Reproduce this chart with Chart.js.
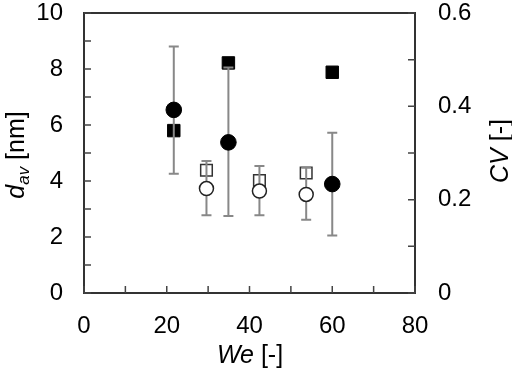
<!DOCTYPE html>
<html>
<head>
<meta charset="utf-8">
<script src="https://cdn.jsdelivr.net/npm/chart.js@4.4.1/dist/chart.umd.min.js"></script>
<style>
html,body{margin:0;padding:0;background:#fff;}
#wrap{width:512px;height:370px;}
</style>
</head>
<body>
<div id="wrap"><canvas id="c" width="512" height="370"></canvas></div>
<script>
// ---- data ----
const weFilled = [21.7, 34.9, 60.0];
const dFilled = [6.54, 5.38, 3.89];
const dFilledHi = [8.80, 8.05, 5.72];
const dFilledLo = [4.26, 2.75, 2.05];
const cvFilled = [0.348, 0.493, 0.473];

const weOpen = [29.6, 42.4, 53.7];
const dOpen = [3.73, 3.64, 3.52];
const dOpenHi = [4.71, 4.54, 4.47];
const dOpenLo = [2.78, 2.78, 2.62];
const cvOpen = [0.263, 0.241, 0.257];

const xTicks = [0, 20, 40, 60, 80];
const yTicks = [0, 2, 4, 6, 8, 10];
const y2Ticks = [0, 0.2, 0.4, 0.6];

const FONT = "'Liberation Sans', Arial, sans-serif";
const pts = (xs, ys) => xs.map((x, i) => ({x: x, y: ys[i]}));

const errBars = {
  0: {xs: weFilled, hi: dFilledHi, lo: dFilledLo},
  1: {xs: weOpen, hi: dOpenHi, lo: dOpenLo}
};

const plugin = {
  id: 'custom',
  beforeDatasetDraw(chart, args) {
    const eb = errBars[args.index];
    if (!eb) return;
    const ctx = chart.ctx, xs = chart.scales.x, ys = chart.scales.y;
    ctx.save();
    ctx.strokeStyle = '#888';
    ctx.lineWidth = 2;
    eb.xs.forEach((x, i) => {
      const px = xs.getPixelForValue(x);
      const top = ys.getPixelForValue(eb.hi[i]);
      const bot = ys.getPixelForValue(eb.lo[i]);
      ctx.beginPath();
      ctx.moveTo(px, top); ctx.lineTo(px, bot);
      ctx.moveTo(px - 5, top); ctx.lineTo(px + 5, top);
      ctx.moveTo(px - 5, bot); ctx.lineTo(px + 5, bot);
      ctx.stroke();
    });
    ctx.restore();
  },
  afterDraw(chart) {
    const ctx = chart.ctx, a = chart.chartArea;
    const xs = chart.scales.x, ys = chart.scales.y, y2 = chart.scales.y2;
    ctx.save();
    // frame
    ctx.strokeStyle = '#333';
    ctx.lineWidth = 2;
    ctx.strokeRect(a.left, a.top, a.right - a.left, a.bottom - a.top);
    // inward ticks
    ctx.lineWidth = 1.5;
    ctx.strokeStyle = '#444';
    const L = 7;
    ctx.beginPath();
    xs.ticks.forEach(t => {
      const p = xs.getPixelForValue(t.value);
      ctx.moveTo(p, a.bottom); ctx.lineTo(p, a.bottom - L);
    });
    ys.ticks.forEach(t => {
      const p = ys.getPixelForValue(t.value);
      ctx.moveTo(a.left, p); ctx.lineTo(a.left + L, p);
    });
    y2.ticks.forEach(t => {
      const p = y2.getPixelForValue(t.value);
      ctx.moveTo(a.right, p); ctx.lineTo(a.right - L, p);
    });
    ctx.stroke();

    // axis titles
    ctx.fillStyle = '#000';
    ctx.textBaseline = 'alphabetic';
    const italic = "italic 25px " + FONT, normal = "25px " + FONT, sub = "italic 17px " + FONT;
    // x title
    ctx.font = italic; const w1 = ctx.measureText('We').width;
    ctx.font = normal; const w2 = ctx.measureText(' [-]').width;
    let sx = 250 - (w1 + w2) / 2;
    ctx.font = italic; ctx.fillText('We', sx, 363);
    ctx.font = normal; ctx.fillText(' [-]', sx + w1, 363);

    // left title
    ctx.save();
    ctx.translate(24, 155);
    ctx.rotate(-Math.PI / 2);
    ctx.font = italic; const a1 = ctx.measureText('d').width;
    ctx.font = sub; const a2 = ctx.measureText('av').width;
    ctx.font = normal; const a3 = ctx.measureText(' [nm]').width;
    let lx = -(a1 + a2 + a3) / 2;
    ctx.font = italic; ctx.fillText('d', lx, 0);
    ctx.font = sub; ctx.fillText('av', lx + a1, 5);
    ctx.font = normal; ctx.fillText(' [nm]', lx + a1 + a2, 0);
    ctx.restore();

    // right title
    ctx.save();
    ctx.translate(508, 151);
    ctx.rotate(-Math.PI / 2);
    ctx.font = italic; const b1 = ctx.measureText('CV').width;
    ctx.font = normal; const b2 = ctx.measureText(' [-]').width;
    let rx = -(b1 + b2) / 2;
    ctx.font = italic; ctx.fillText('CV', rx, 0);
    ctx.font = normal; ctx.fillText(' [-]', rx + b1, 0);
    ctx.restore();

    ctx.restore();
  }
};

const showIn = (arr) => (v) => {
  const hit = arr.find(t => Math.abs(t - v) < 1e-6);
  return hit === undefined ? '' : String(hit);
};
const noPad = (s) => { s.paddingTop = 0; s.paddingBottom = 0; s.paddingLeft = 0; s.paddingRight = 0; };

new Chart(document.getElementById('c'), {
  type: 'scatter',
  data: {
    datasets: [
      {label: 'd filled', data: pts(weFilled, dFilled), yAxisID: 'y', order: 1,
       pointStyle: 'circle', pointRadius: 7.8, backgroundColor: '#000', borderColor: '#000', borderWidth: 1},
      {label: 'd open', data: pts(weOpen, dOpen), yAxisID: 'y', order: 1,
       pointStyle: 'circle', pointRadius: 7, backgroundColor: '#fff', borderColor: '#222', borderWidth: 1.5},
      {label: 'CV filled', data: pts(weFilled, cvFilled), yAxisID: 'y2', order: 3,
       pointStyle: 'rect', pointRadius: 8.8, backgroundColor: '#000', borderColor: '#000', borderWidth: 1},
      {label: 'CV open', data: pts(weOpen, cvOpen), yAxisID: 'y2', order: 3,
       pointStyle: 'rect', pointRadius: 8.2, backgroundColor: '#fff', borderColor: '#333', borderWidth: 1.5}
    ]
  },
  options: {
    responsive: false,
    animation: false,
    devicePixelRatio: 1,
    layout: {padding: {top: 13, left: 0, right: 0, bottom: 0}},
    plugins: {legend: {display: false}, tooltip: {enabled: false}},
    scales: {
      x: {
        type: 'linear', min: 0, max: 80,
        grid: {display: false, drawTicks: false},
        border: {display: false},
        ticks: {stepSize: 10, autoSkip: false, maxRotation: 0, padding: 19, color: '#000',
                font: {family: FONT, size: 24}, callback: showIn(xTicks)},
        afterFit: s => { s.height = 77; noPad(s); }
      },
      y: {
        type: 'linear', position: 'left', min: 0, max: 10,
        grid: {display: false, drawTicks: false},
        border: {display: false},
        ticks: {stepSize: 1, autoSkip: false, padding: 21, color: '#000',
                font: {family: FONT, size: 24}, callback: showIn(yTicks)},
        afterFit: s => { s.width = 84; noPad(s); }
      },
      y2: {
        type: 'linear', position: 'right', min: 0, max: 0.6,
        grid: {display: false, drawTicks: false},
        border: {display: false},
        ticks: {stepSize: 0.1, autoSkip: false, padding: 23, color: '#000',
                font: {family: FONT, size: 24}, callback: showIn(y2Ticks)},
        afterFit: s => { s.width = 97; noPad(s); }
      }
    }
  },
  plugins: [plugin]
});
</script>
</body>
</html>
